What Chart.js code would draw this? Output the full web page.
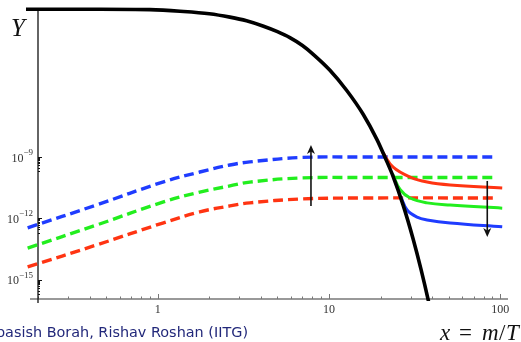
<!DOCTYPE html>
<html>
<head>
<meta charset="utf-8">
<script src="https://cdn.jsdelivr.net/npm/chart.js@4"></script>
<style>
  html, body { margin: 0; padding: 0; background: #fff; }
  #c { display: block; }
</style>
</head>
<body>
<canvas id="c" width="521" height="342"></canvas>
<script>
// equilibrium yield (black)
const eqX = [0.17, 0.46, 0.9, 1.35, 2.0, 2.64, 3.3, 4.11, 5.0, 5.91, 7.0, 8.06, 10.1, 12.7, 15.8, 19.1, 21.2, 23.7, 27.1, 31.0, 34.5, 37.9, 40.5];
const eqY = [1.66e-2, 1.66e-2, 1.58e-2, 1.32e-2, 1.0e-2, 6.8e-3, 4.5e-3, 2.5e-3, 1.32e-3, 6.8e-4, 2.8e-4, 1.07e-4, 1.78e-5, 1.78e-6, 1.26e-7, 6.9e-9, 1.0e-9, 1.12e-10, 4.5e-12, 1.0e-13, 3.2e-15, 1.12e-16, 7.9e-18];

// freeze-in curves (dashed), shared x
const inX = [0.174, 0.44, 1.07, 1.76, 2.64, 3.45, 6.77, 15.2, 96];
const blueInY = [3.5e-13, 4.6e-12, 6.0e-11, 1.86e-10, 4.1e-10, 5.8e-10, 9.5e-10, 1.0e-9, 1.0e-9];
const greenInY = [3.6e-14, 4.8e-13, 6.3e-12, 1.95e-11, 3.9e-11, 6.0e-11, 9.5e-11, 1.0e-10, 1.0e-10];
const redInY = [4.3e-15, 5.1e-14, 6.0e-13, 2.1e-12, 4.1e-12, 5.8e-12, 8.9e-12, 1.0e-11, 1.0e-11];

// freeze-out curves (solid)
const redOutX = [20.5, 20.7, 23.7, 29.8, 37.4, 51.0, 102.7];
const redOutY = [1.8e-9, 1.58e-9, 3.2e-10, 1.05e-10, 6.0e-11, 4.3e-11, 3.1e-11];
const greenOutX = [23.5, 26.0, 29.8, 37.4, 51.0, 102.7];
const greenOutY = [1.5e-10, 2.6e-11, 1.0e-11, 5.8e-12, 4.5e-12, 3.2e-12];
const blueOutX = [26.2, 28.6, 32.7, 37.4, 51.0, 102.7];
const blueOutY = [1.2e-11, 2.6e-12, 1.17e-12, 8.5e-13, 6.0e-13, 3.9e-13];

// axis ticks
const xMajor = [1, 10, 100];
const xMinor = [0.2, 0.3, 0.4, 0.5, 0.6, 0.7, 0.8, 0.9, 2, 3, 4, 5, 6, 7, 8, 9, 20, 30, 40, 50, 60, 70, 80, 90];
const yMajor = [1e-15, 1e-12, 1e-9];
const yMajorExp = ['\u221215', '\u221212', '\u22129'];
const yMinor = [2e-16, 3e-16, 4e-16, 5e-16, 6e-16, 7e-16, 8e-16, 9e-16,
                2e-13, 3e-13, 4e-13, 5e-13, 6e-13, 7e-13, 8e-13, 9e-13,
                2e-10, 3e-10, 4e-10, 5e-10, 6e-10, 7e-10, 8e-10, 9e-10];

// arrows: [x, from y, to y (tip)]
const arrows = [[7.85, 4.1e-12, 3.9e-9], [84, 6.8e-11, 1.26e-13]];

const pts = (xs, ys) => xs.map((x, i) => ({ x: x, y: ys[i] }));

const BLUE = '#1f3cff', GREEN = '#22ee1e', RED = '#ff3412';
const clip = { left: 12, top: 4, right: 2, bottom: 2 };

function line(data, color, width, dash, mode) {
    return {
        data: data,
        borderColor: color,
        borderWidth: width,
        borderDash: dash || [],
        pointRadius: 0,
        fill: false,
        tension: 0.4,
        cubicInterpolationMode: mode || 'default',
        clip: clip
    };
}

const axesPlugin = {
    id: 'axes',
    beforeDatasetsDraw(chart) {
        const { ctx, chartArea: a, scales: { x, y } } = chart;
        ctx.save();
        // x axis
        ctx.strokeStyle = '#777';
        ctx.lineWidth = 1.5;
        ctx.beginPath();
        ctx.moveTo(30, a.bottom);
        ctx.lineTo(a.right, a.bottom);
        ctx.stroke();
        ctx.lineWidth = 1;
        xMinor.forEach(v => {
            const px = Math.round(x.getPixelForValue(v)) + 0.5;
            ctx.beginPath(); ctx.moveTo(px, a.bottom); ctx.lineTo(px, a.bottom - 2.5); ctx.stroke();
        });
        xMajor.forEach(v => {
            const px = Math.round(x.getPixelForValue(v)) + 0.5;
            ctx.beginPath(); ctx.moveTo(px, a.bottom); ctx.lineTo(px, a.bottom - 5); ctx.stroke();
        });
        // y axis
        ctx.strokeStyle = '#111';
        ctx.lineWidth = 1.3;
        ctx.beginPath();
        ctx.moveTo(a.left, a.top);
        ctx.lineTo(a.left, a.bottom + 4);
        ctx.stroke();
        ctx.lineWidth = 1;
        yMinor.forEach(v => {
            const py = Math.round(y.getPixelForValue(v)) + 0.5;
            ctx.beginPath(); ctx.moveTo(a.left, py); ctx.lineTo(a.left + 2, py); ctx.stroke();
        });
        yMajor.forEach(v => {
            const py = Math.round(y.getPixelForValue(v)) + 0.5;
            ctx.beginPath(); ctx.moveTo(a.left, py); ctx.lineTo(a.left + 4, py); ctx.stroke();
        });

        // tick labels
        ctx.fillStyle = '#333';
        ctx.font = '12px "Liberation Serif", serif';
        ctx.textAlign = 'center';
        ctx.textBaseline = 'alphabetic';
        xMajor.forEach(v => {
            ctx.fillText(String(v), x.getPixelForValue(v), a.bottom + 14);
        });
        yMajor.forEach((v, i) => {
            const py = y.getPixelForValue(v);
            ctx.font = '9px "Liberation Serif", serif';
            const ew = ctx.measureText(yMajorExp[i]).width;
            ctx.textAlign = 'left';
            const ex = a.left - 5 - ew;
            ctx.fillText(yMajorExp[i], ex, py - 2);
            ctx.font = '12px "Liberation Serif", serif';
            ctx.textAlign = 'right';
            ctx.fillText('10', ex, py + 4.5);
        });
        ctx.restore();
    },
    afterDatasetsDraw(chart) {
        const { ctx, scales: { x, y } } = chart;
        ctx.save();
        ctx.strokeStyle = '#111';
        ctx.fillStyle = '#111';
        ctx.lineWidth = 1.6;
        arrows.forEach(([ax, y0, y1]) => {
            const px = x.getPixelForValue(ax);
            const p0 = y.getPixelForValue(y0);
            const p1 = y.getPixelForValue(y1);
            const dir = p1 < p0 ? -1 : 1;
            ctx.beginPath();
            ctx.moveTo(px, p0);
            ctx.lineTo(px, p1 - dir * 6);
            ctx.stroke();
            ctx.beginPath();
            ctx.moveTo(px, p1);
            ctx.lineTo(px - 4, p1 - dir * 9);
            ctx.lineTo(px, p1 - dir * 6.5);
            ctx.lineTo(px + 4, p1 - dir * 9);
            ctx.closePath();
            ctx.fill();
        });
        ctx.restore();
    },
    afterDraw(chart) {
        const { ctx } = chart;
        ctx.save();
        ctx.fillStyle = '#111';
        ctx.textAlign = 'left';
        ctx.textBaseline = 'alphabetic';
        ctx.font = 'italic 25px "Liberation Serif", serif';
        ctx.fillText('Y', 11, 36);

        // x = m/T
        ctx.font = 'italic 23px "Liberation Serif", serif';
        ctx.fillText('x', 440, 340);
        ctx.fillText('m', 482, 340);
        ctx.fillText('T', 506, 340);
        ctx.font = '23px "Liberation Serif", serif';
        ctx.fillText('=', 459, 340);
        ctx.fillText('/', 499, 340);

        // footer (cut at the left edge)
        const tail = 'asish Borah, Rishav Roshan (IITG)';
        ctx.font = '15px "DejaVu Sans", sans-serif';
        const size = 15 * 243 / ctx.measureText(tail).width;
        ctx.font = size.toFixed(2) + 'px "DejaVu Sans", sans-serif';
        ctx.fillStyle = '#22287a';
        ctx.textAlign = 'right';
        ctx.fillText('Deb' + tail, 248, 337);
        ctx.restore();
    }
};

new Chart(document.getElementById('c'), {
    type: 'line',
    data: {
        datasets: [
            line(pts(eqX, eqY), '#000', 3.6, null, 'monotone'),
            line(pts(redOutX, redOutY), RED, 3),
            line(pts(greenOutX, greenOutY), GREEN, 3),
            line(pts(blueOutX, blueOutY), BLUE, 3),
            line(pts(inX, blueInY), BLUE, 3.4, [10, 5]),
            line(pts(inX, greenInY), GREEN, 3.4, [10, 5]),
            line(pts(inX, redInY), RED, 3.4, [10, 5])
        ]
    },
    options: {
        responsive: false,
        animation: false,
        layout: { padding: { left: 38, top: 8, right: 13, bottom: 43 } },
        plugins: { legend: { display: false }, tooltip: { enabled: false } },
        scales: {
            x: { type: 'logarithmic', min: 0.2, max: 111, display: false },
            y: { type: 'logarithmic', min: 1.17e-16, max: 1.9e-2, display: false }
        }
    },
    plugins: [axesPlugin]
});
</script>
</body>
</html>
